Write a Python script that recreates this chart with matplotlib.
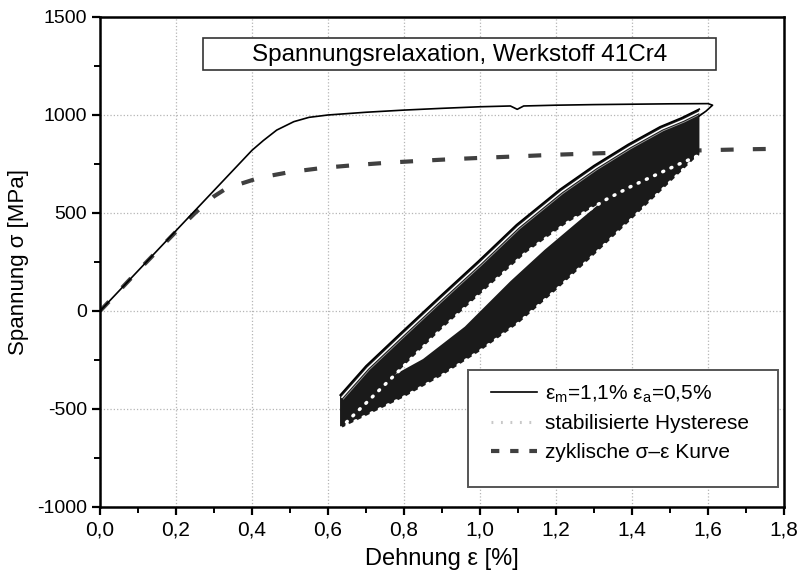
import numpy as np
import matplotlib
matplotlib.use('Agg')
import matplotlib.pyplot as plt
from matplotlib.lines import Line2D
from matplotlib.patches import Rectangle
from matplotlib.transforms import offset_copy
from matplotlib.ticker import MultipleLocator

plt.rcParams['font.family'] = ['Liberation Sans', 'DejaVu Sans']
plt.rcParams['mathtext.fontset'] = 'custom'
plt.rcParams['mathtext.rm'] = 'Liberation Sans'
plt.rcParams['axes.unicode_minus'] = False

# first loading (monotonic) up to max strain, incl. reversal at the tip
first_eps = [0, 0.1, 0.2, 0.3, 0.4, 0.43, 0.465, 0.51, 0.55, 0.6, 0.7, 0.8, 0.9, 1.0,
             1.08, 1.098, 1.115, 1.2, 1.3, 1.4, 1.5, 1.6, 1.612, 1.595, 1.577]
first_sig = [0, 205, 410, 615, 820, 870, 923, 966, 988, 1000, 1014, 1025, 1034, 1042,
             1046, 1029, 1046, 1050, 1053, 1055, 1057, 1058, 1050, 1020, 995]

# first cycle: loading branch (upper band, outer edge)
load1_eps = [0.632, 0.70, 0.79, 0.895, 0.996, 1.096, 1.21, 1.30, 1.39, 1.474, 1.53, 1.577]
load1_sig = [-429, -280, -115, 75, 255, 440, 620, 742, 850, 940, 985, 1030]

# first cycle: unloading branch (lower band, upper edge)
unload1_eps = [1.577, 1.50, 1.42, 1.333, 1.25, 1.17, 1.08, 0.96, 0.85, 0.75, 0.69, 0.632]
unload1_sig = [1000, 868, 728, 578, 443, 312, 152, -80, -245, -352, -398, -429]

# stabilised loop
load_s_eps = [0.632, 0.66, 0.70, 0.75, 0.82, 0.895, 1.0, 1.123, 1.23, 1.333, 1.40, 1.46, 1.52, 1.577]
load_s_sig = [-600, -545, -470, -375, -242, -100, 85, 300, 450, 570, 638, 692, 746, 795]
unload_s_eps = [1.577, 1.47, 1.395, 1.30, 1.20, 1.10, 1.0, 0.90, 0.80, 0.70, 0.632]
unload_s_sig = [800, 600, 460, 285, 105, -65, -205, -330, -440, -535, -600]

# cyclic stress-strain curve
cyc_eps = [0, 0.1, 0.2, 0.25, 0.3, 0.333, 0.42, 0.5, 0.59, 0.675, 0.76, 0.85, 0.93,
           1.01, 1.1, 1.18, 1.27, 1.4, 1.5, 1.61, 1.7, 1.8]
cyc_sig = [0, 205, 405, 500, 585, 626, 680, 709, 731, 745, 757, 767, 775,
           782, 789, 796, 802, 810, 815, 821, 825, 828]

xticks = [0.0, 0.2, 0.4, 0.6, 0.8, 1.0, 1.2, 1.4, 1.6, 1.8]
xticklabels = ['0,0', '0,2', '0,4', '0,6', '0,8', '1,0', '1,2', '1,4', '1,6', '1,8']
yticks = [-1000, -500, 0, 500, 1000, 1500]

narrow = ['Liberation Sans Narrow', 'Liberation Sans']

fig = plt.figure(figsize=(7.99, 5.76), dpi=100)
ax = fig.add_axes([0.1252, 0.1198, 0.856, 0.8507])

ax.plot(cyc_eps, cyc_sig, color='#404040', lw=3.0, dashes=(3.1, 4.6), zorder=2)

# hysteresis bands
band_col = '#1a1a1a'
ax.fill(np.concatenate([load1_eps, load_s_eps[::-1]]),
        np.concatenate([load1_sig, load_s_sig[::-1]]), color=band_col, lw=0, zorder=3)
ax.fill(np.concatenate([unload1_eps, unload_s_eps[::-1]]),
        np.concatenate([unload1_sig, unload_s_sig[::-1]]), color=band_col, lw=0, zorder=3)

# thin outline of first cycle with a white gap inside
gap = offset_copy(ax.transData, fig=fig, x=1.8, y=-2.2, units='dots')
ax.plot(load1_eps, load1_sig, color='white', lw=1.1, transform=gap, zorder=4)
gap2 = offset_copy(ax.transData, fig=fig, x=3.2, y=-4.0, units='dots')
ax.plot(load1_eps, load1_sig, color='#9a9a9a', lw=0.6, transform=gap2, zorder=4)
ax.plot(load1_eps, load1_sig, color='black', lw=1.2, zorder=5)

# stabilised hysteresis, white dots
ax.plot(load_s_eps + unload_s_eps, load_s_sig + unload_s_sig, color='white', lw=2.5,
        linestyle=(0, (0.3, 2.3)), dash_capstyle='round', zorder=6)

ax.plot(first_eps, first_sig, color='black', lw=1.2, zorder=7)

ax.set_xlim(0, 1.8)
ax.set_ylim(-1000, 1500)
ax.set_xticks(xticks)
ax.set_xticklabels(xticklabels, family=narrow)
ax.set_yticks(yticks)
ax.xaxis.set_minor_locator(MultipleLocator(0.1))
ax.yaxis.set_minor_locator(MultipleLocator(250))
ax.tick_params(which='major', direction='out', length=6, width=1.6, labelsize=15,
               top=False, right=False)
ax.tick_params(axis='y', which='major', labelsize=14)
ax.tick_params(which='minor', direction='out', length=4, width=1.4, top=False, right=False)
for s in ax.spines.values():
    s.set_linewidth(1.8)
ax.grid(True, which='major', color='#b5b5b5', linestyle=':', lw=0.9, zorder=0)
ax.set_axisbelow(True)

ax.set_xlabel('Dehnung ε [%]', fontsize=17, family=narrow, labelpad=6)
ax.set_ylabel('Spannung σ [MPa]', fontsize=16, labelpad=6)

# title box
ax.add_patch(Rectangle((0.151, 0.892), 0.75, 0.065, transform=ax.transAxes,
                       facecolor='white', edgecolor='#333333', lw=1.2, zorder=8))
ax.text(0.526, 0.923, 'Spannungsrelaxation, Werkstoff 41Cr4', transform=ax.transAxes,
        ha='center', va='center', fontsize=17.5, zorder=9)

# legend: frame drawn separately so the entries can sit further right
ax.add_patch(Rectangle((0.538, 0.041), 0.453, 0.239, transform=ax.transAxes,
                       facecolor='white', edgecolor='#555555', lw=1.4, zorder=10))
handles = [
    Line2D([], [], color='black', lw=1.2, label='ε$_\\mathrm{m}$=1,1% ε$_\\mathrm{a}$=0,5%'),
    Line2D([], [], color='#c8c8c8', lw=2.2, linestyle=(0, (0.6, 2.5)), label='stabilisierte Hysterese'),
    Line2D([], [], color='#404040', lw=3.0, dashes=(2.0, 2.6), label='zyklische σ–ε Kurve'),
]
leg = ax.legend(handles=handles, loc='upper left', bbox_to_anchor=(0.572, 0.252),
                fontsize=15, frameon=False, borderaxespad=0, borderpad=0,
                handlelength=2.2, handletextpad=0.4, labelspacing=0.45)
leg.set_zorder(11)

fig.savefig('out.png', dpi=100)
